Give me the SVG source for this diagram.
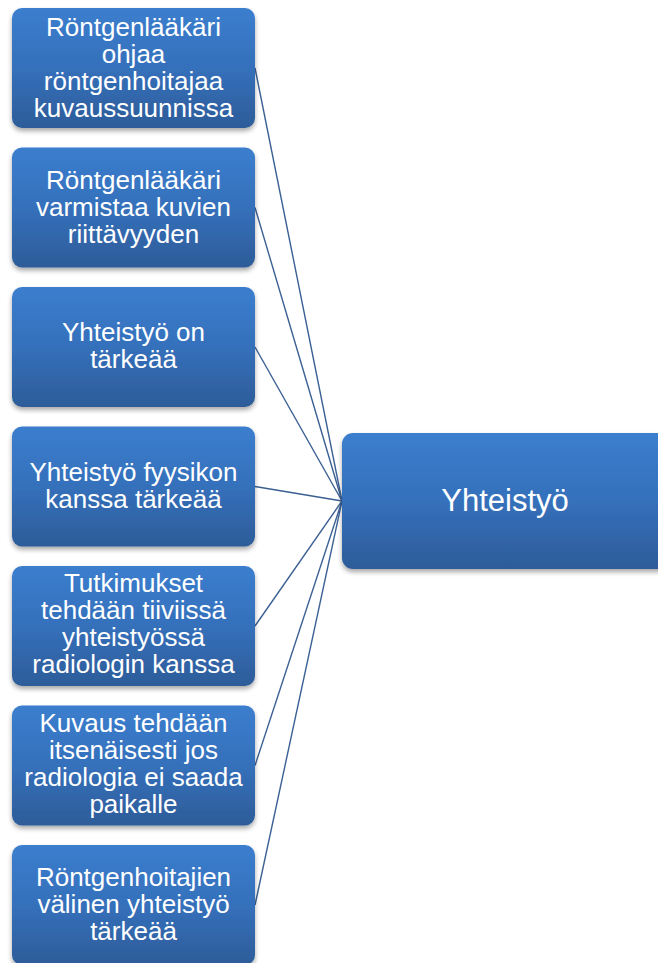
<svg xmlns="http://www.w3.org/2000/svg" width="658" height="963" viewBox="0 0 658 963">
<defs>
<linearGradient id="g" x1="0" y1="0" x2="0" y2="1">
<stop offset="0" stop-color="#3b7ece"/>
<stop offset="0.5" stop-color="#3570bb"/>
<stop offset="1" stop-color="#2d5c99"/>
</linearGradient>
<filter id="sh" x="-10%" y="-10%" width="120%" height="130%">
<feGaussianBlur in="SourceAlpha" stdDeviation="2.5"/>
<feOffset dx="0" dy="3" result="b"/>
<feComponentTransfer><feFuncA type="linear" slope="0.35"/></feComponentTransfer>
<feMerge><feMergeNode/><feMergeNode in="SourceGraphic"/></feMerge>
</filter>
</defs>
<style>
.box{fill:url(#g);filter:url(#sh);}
.t{font-family:"Liberation Sans",Arial,sans-serif;font-size:26px;fill:#ffffff;text-anchor:middle;}
.c{font-family:"Liberation Sans",Arial,sans-serif;font-size:31px;fill:#ffffff;text-anchor:middle;}
.ln{stroke:#3b6093;stroke-width:1.4;fill:none;}
</style>
<rect width="658" height="963" fill="#ffffff"/>
<g id="connectors">
<line class="ln" x1="255" y1="68" x2="342" y2="501"/>
<line class="ln" x1="255" y1="207.5" x2="342" y2="501"/>
<line class="ln" x1="255" y1="347" x2="342" y2="501"/>
<line class="ln" x1="255" y1="486.5" x2="342" y2="501"/>
<line class="ln" x1="255" y1="626" x2="342" y2="501"/>
<line class="ln" x1="255" y1="765.5" x2="342" y2="501"/>
<line class="ln" x1="255" y1="905" x2="342" y2="501"/>
</g>
<g id="center">
<rect class="box" x="342" y="433" width="330" height="136" rx="11"/>
<text class="c" x="505" y="511">Yhteistyö</text>
</g>
<g id="n1">
<rect class="box" x="12" y="8" width="243" height="120" rx="10"/>
<text class="t" x="133.5" y="36">Röntgenlääkäri</text>
<text class="t" x="133.5" y="63">ohjaa</text>
<text class="t" x="133.5" y="90">röntgenhoitajaa</text>
<text class="t" x="133.5" y="117">kuvaussuunnissa</text>
</g>
<g id="n2">
<rect class="box" x="12" y="147.5" width="243" height="120" rx="10"/>
<text class="t" x="133.5" y="189">Röntgenlääkäri</text>
<text class="t" x="133.5" y="216">varmistaa kuvien</text>
<text class="t" x="133.5" y="243">riittävyyden</text>
</g>
<g id="n3">
<rect class="box" x="12" y="287" width="243" height="120" rx="10"/>
<text class="t" x="133.5" y="341">Yhteistyö on</text>
<text class="t" x="133.5" y="368">tärkeää</text>
</g>
<g id="n4">
<rect class="box" x="12" y="426.5" width="243" height="120" rx="10"/>
<text class="t" x="133.5" y="481">Yhteistyö fyysikon</text>
<text class="t" x="133.5" y="508">kanssa tärkeää</text>
</g>
<g id="n5">
<rect class="box" x="12" y="566" width="243" height="120" rx="10"/>
<text class="t" x="133.5" y="592">Tutkimukset</text>
<text class="t" x="133.5" y="619">tehdään tiiviissä</text>
<text class="t" x="133.5" y="646">yhteistyössä</text>
<text class="t" x="133.5" y="673">radiologin kanssa</text>
</g>
<g id="n6">
<rect class="box" x="12" y="705.5" width="243" height="120" rx="10"/>
<text class="t" x="133.5" y="732">Kuvaus tehdään</text>
<text class="t" x="133.5" y="759">itsenäisesti jos</text>
<text class="t" x="133.5" y="786">radiologia ei saada</text>
<text class="t" x="133.5" y="813">paikalle</text>
</g>
<g id="n7">
<rect class="box" x="12" y="845" width="243" height="120" rx="10"/>
<text class="t" x="133.5" y="886">Röntgenhoitajien</text>
<text class="t" x="133.5" y="913">välinen yhteistyö</text>
<text class="t" x="133.5" y="940">tärkeää</text>
</g>
</svg>
